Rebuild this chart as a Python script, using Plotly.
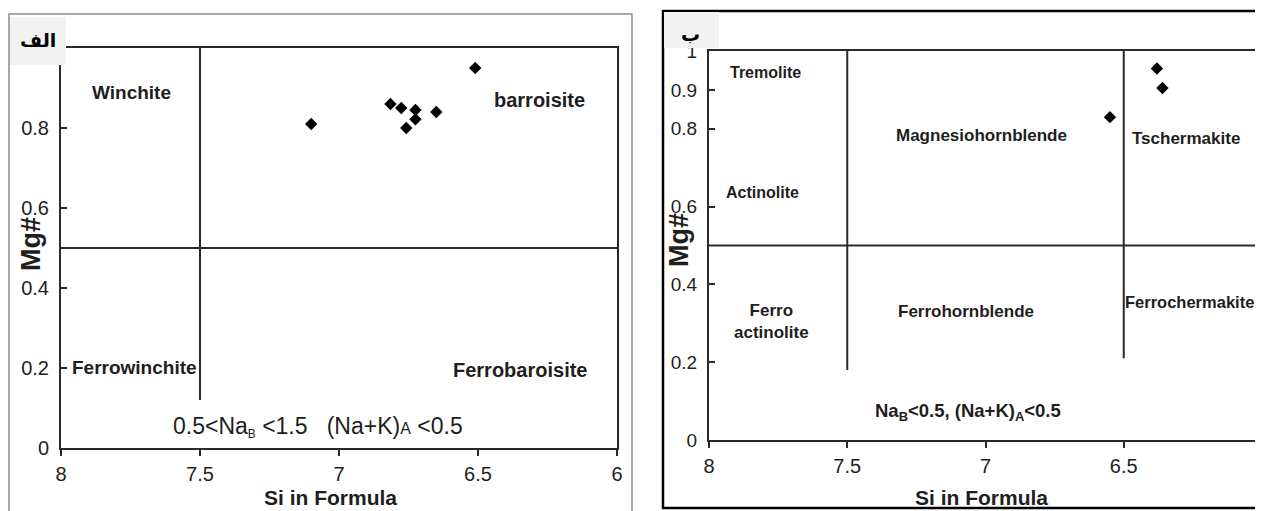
import plotly.graph_objects as go

# ---- data ----
si_a = [7.10, 6.815, 6.776, 6.758, 6.725, 6.725, 6.65, 6.51]
mg_a = [0.81, 0.86, 0.85, 0.80, 0.845, 0.822, 0.84, 0.95]
si_b = [6.55, 6.38, 6.36]
mg_b = [0.83, 0.955, 0.905]

x_ticks = [8, 7.5, 7, 6.5, 6]
x_ticktext = ["8", "7.5", "7", "6.5", "6"]
y_ticks_a = [0, 0.2, 0.4, 0.6, 0.8]
y_ticktext_a = ["0", "0.2", "0.4", "0.6", "0.8"]
y_ticks_b = [0, 0.2, 0.4, 0.6, 0.8, 0.9, 1]
y_ticktext_b = ["0", "0.2", "0.4", "0.6", "0.8", "0.9", "1"]

regions_a = ["Winchite", "barroisite", "Ferrowinchite", "Ferrobaroisite"]
regions_b = ["Tremolite", "Actinolite", "Magnesiohornblende", "Tschermakite",
             "Ferro<br>actinolite", "Ferrohornblende", "Ferrochermakite"]
panel_labels = ["الف", "ب"]
x_title = "Si in Formula"
y_title = "Mg#"

# the page body has an 8px margin: size the figure to fit the window
OFF = 8
W, H = 1263 - OFF, 511 - OFF
FONT = "Liberation Sans, Arial, sans-serif"
INK = "#1e1e1e"
LINE = "#2a2a2a"

def px(x):
    return (x - OFF) / W

def py(y):
    return 1 - (y - OFF) / H

fig = go.Figure()
fig.add_trace(go.Scatter(x=si_a, y=mg_a, mode="markers", xaxis="x", yaxis="y",
                         marker=dict(symbol="diamond", size=9.5, color="black"),
                         showlegend=False, hoverinfo="skip"))
fig.add_trace(go.Scatter(x=si_b, y=mg_b, mode="markers", xaxis="x2", yaxis="y2",
                         marker=dict(symbol="diamond", size=9.5, color="black"),
                         showlegend=False, hoverinfo="skip"))

axis_common = dict(showgrid=False, zeroline=False, showline=True, mirror=True,
                   linecolor=LINE, linewidth=2, ticks="outside", ticklen=6,
                   tickwidth=2, tickcolor=LINE, automargin=False,
                   tickfont=dict(family=FONT, size=20, color=INK))

fig.update_layout(
    width=W, height=H,
    margin=dict(l=0, r=0, t=0, b=0, pad=0),
    paper_bgcolor="white", plot_bgcolor="white",
    showlegend=False,
    xaxis=dict(axis_common, domain=[px(61), px(617)], range=[8, 6],
               tickvals=x_ticks, ticktext=x_ticktext, anchor="y",
               ticklabelstandoff=1),
    yaxis=dict(axis_common, domain=[py(448), py(48)], range=[0, 1],
               tickvals=y_ticks_a, ticktext=y_ticktext_a, anchor="x",
               ticks="inside", ticklabelstandoff=6),
    xaxis2=dict(axis_common, domain=[px(709), px(1262)], range=[8, 6],
                tickvals=x_ticks, ticktext=x_ticktext, anchor="y2",
                ticklabelstandoff=1),
    yaxis2=dict(axis_common, domain=[py(440), py(51)], range=[0, 1],
                tickvals=y_ticks_b, ticktext=y_ticktext_b, anchor="x2",
                ticks="inside", ticklabelstandoff=6,
                tickfont=dict(family=FONT, size=19, color=INK)),
)

shapes = []
# outer frames
shapes.append(dict(type="rect", xref="paper", yref="paper",
                   x0=px(9), x1=px(632), y0=py(520), y1=py(14),
                   line=dict(color="#8c8c8c", width=1.5), fillcolor="rgba(0,0,0,0)",
                   layer="below"))
shapes.append(dict(type="rect", xref="paper", yref="paper",
                   x0=px(663), x1=px(1268), y0=py(508), y1=py(11),
                   line=dict(color="black", width=2.5), fillcolor="rgba(0,0,0,0)",
                   layer="below"))
# dividers panel A
shapes.append(dict(type="line", xref="x", yref="y", x0=8, x1=6, y0=0.5, y1=0.5,
                   line=dict(color=LINE, width=2)))
shapes.append(dict(type="line", xref="x", yref="y", x0=7.5, x1=7.5, y0=0.12, y1=1,
                   line=dict(color=LINE, width=2)))
# dividers panel B
shapes.append(dict(type="line", xref="x2", yref="y2", x0=8, x1=6, y0=0.5, y1=0.5,
                   line=dict(color=LINE, width=2)))
shapes.append(dict(type="line", xref="x2", yref="y2", x0=7.5, x1=7.5, y0=0.18, y1=1,
                   line=dict(color=LINE, width=2)))
shapes.append(dict(type="line", xref="x2", yref="y2", x0=6.5, x1=6.5, y0=0.21, y1=1,
                   line=dict(color=LINE, width=2)))
# panel label boxes
shapes.append(dict(type="rect", xref="paper", yref="paper",
                   x0=px(10), x1=px(66), y0=py(65), y1=py(17),
                   line=dict(width=0), fillcolor="#f2f2f2", layer="above"))
shapes.append(dict(type="rect", xref="paper", yref="paper",
                   x0=px(664), x1=px(719), y0=py(48), y1=py(12),
                   line=dict(width=0), fillcolor="#f2f2f2", layer="above"))
fig.update_layout(shapes=shapes)

ann = []

def label(text, x, y, xref, yref, size, bold=True, **kw):
    ann.append(dict(text=("<b>%s</b>" % text) if bold else text, x=x, y=y,
                    xref=xref, yref=yref, showarrow=False,
                    xanchor="center", yanchor="middle",
                    font=dict(family=FONT, size=size, color=INK), **kw))

# panel A region labels
pos_a = [(7.748, 0.89), (6.28, 0.87), (7.737, 0.2025), (6.349, 0.195)]
size_a = [19, 20, 19, 20]
for t, (x, y), s in zip(regions_a, pos_a, size_a):
    label(t, x, y, "x", "y", s)
label("0.5&lt;Na<span style='font-size:17px'><sub>B</sub></span> &lt;1.5&nbsp;&nbsp;&nbsp;(Na+K)<span style='font-size:16px'>A</span> &lt;0.5",
      7.075, 0.0525, "x", "y", 23, bold=False)

# panel B region labels
pos_b = [(7.794, 0.944), (7.805, 0.636), (7.014, 0.782), (6.274, 0.774),
         (7.773, 0.305), (7.072, 0.331), (6.264, 0.354)]
size_b = [16, 16, 17, 17, 17, 17, 16.5]
for t, (x, y), s in zip(regions_b, pos_b, size_b):
    label(t, x, y, "x2", "y2", s)
label("Na<sub>B</sub>&lt;0.5, (Na+K)<sub>A</sub>&lt;0.5", 7.065, 0.072, "x2", "y2", 18.5)

# axis titles
label(x_title, px(330), py(497), "paper", "paper", 21)
label(x_title, px(981), py(497), "paper", "paper", 21)
label(y_title, px(31), py(244), "paper", "paper", 27, textangle=-90)
label(y_title, px(679), py(240), "paper", "paper", 27, textangle=-90)

# panel labels (Arabic)
ann.append(dict(text="<b>%s</b>" % panel_labels[0], x=px(38), y=py(40), xref="paper",
                yref="paper", showarrow=False, xanchor="center", yanchor="middle",
                font=dict(family="DejaVu Sans, Noto Sans, sans-serif", size=19, color="black")))
ann.append(dict(text="<b>%s</b>" % panel_labels[1], x=px(690), y=py(34), xref="paper",
                yref="paper", showarrow=False, xanchor="center", yanchor="middle",
                font=dict(family="DejaVu Sans, Noto Sans, sans-serif", size=19, color="black")))

fig.update_layout(annotations=ann)
fig.write_html("out.html")
